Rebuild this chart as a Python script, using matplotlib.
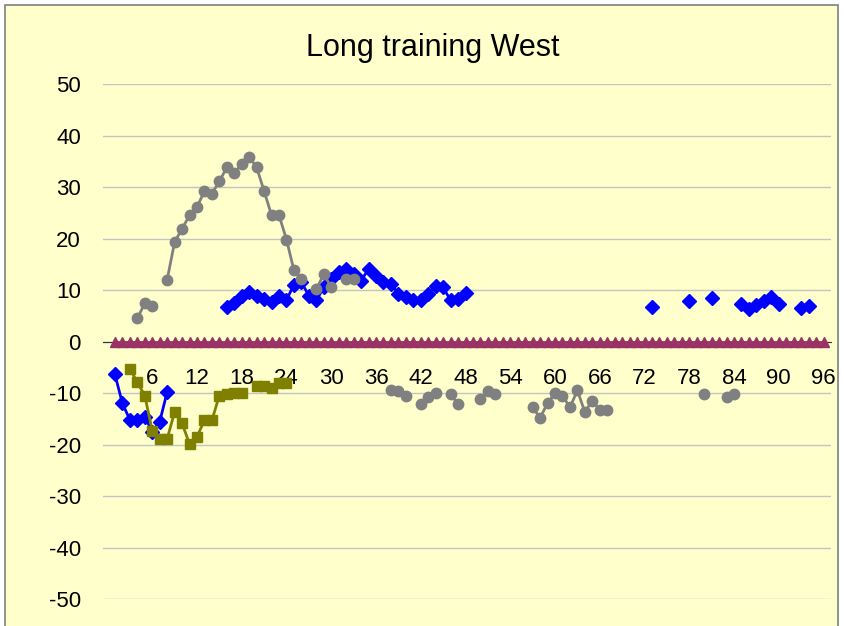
import numpy as np
import matplotlib
matplotlib.use("Agg")
import matplotlib.pyplot as plt
from matplotlib import font_manager
from matplotlib.patches import Rectangle

# categories run 1..96 along the axis
categories = np.arange(1, 97)
xtick_labels = [str(c) if c % 6 == 0 else "" for c in categories]

# blue diamonds
blue_cats = [1, 2, 3, 4, 5, 6, 7, 8,
             16, 17, 18, 19, 20, 21, 22, 23, 24, 25, 26, 27, 28, 29, 30, 31, 32,
             33, 34, 35, 36, 37, 38, 39, 40, 41, 42, 43, 44, 45, 46, 47, 48,
             73, 78, 81, 85, 86, 87, 88, 89, 90, 93, 94]
blue_vals = [-6.4, -12.0, -15.2, -15.2, -14.6, -17.5, -15.6, -9.8,
             6.7, 7.4, 8.8, 9.6, 8.9, 8.3, 7.6, 8.9, 8.1, 11.0, 11.5, 8.9, 8.0, 10.5, 12.2, 13.5, 14.1,
             13.1, 11.8, 14.1, 12.8, 11.5, 11.2, 9.3, 8.6, 8.0, 8.1, 9.3, 10.7, 10.5, 8.0, 8.3, 9.4,
             6.7, 7.8, 8.4, 7.3, 6.4, 7.0, 7.8, 8.6, 7.3, 6.5, 6.8]

# olive squares
olive_cats = [3, 4, 5, 6, 7, 8, 9, 10, 11, 12, 13, 14, 15, 16, 17, 18, 20, 21, 22, 23, 24]
olive_vals = [-5.3, -7.9, -10.5, -17.3, -18.9, -18.9, -13.7, -15.9, -19.9, -18.5, -15.3, -15.3,
              -10.5, -10.2, -10.0, -10.0, -8.6, -8.6, -9.0, -8.0, -8.0]

# gray circles
gray_cats = [4, 5, 6, 8, 9, 10, 11, 12, 13, 14, 15, 16, 17, 18, 19, 20, 21, 22, 23, 24, 25, 26,
             28, 29, 30, 32, 33,
             38, 39, 40, 42, 43, 44, 46, 47, 50, 51, 52,
             57, 58, 59, 60, 61, 62, 63, 64, 65, 66, 67,
             80, 83, 84]
gray_vals = [4.5, 7.4, 6.9, 12.0, 19.3, 21.9, 24.5, 26.1, 29.2, 28.7, 31.1, 33.8, 32.8, 34.4, 35.9,
             33.8, 29.2, 24.5, 24.5, 19.8, 13.8, 12.2,
             10.1, 13.1, 10.5, 12.2, 12.2,
             -9.5, -9.6, -10.6, -12.2, -10.8, -10.0, -10.2, -12.2, -11.1, -9.6, -10.2,
             -12.8, -14.8, -12.0, -10.0, -10.5, -12.8, -9.5, -13.7, -11.5, -13.3, -13.3,
             -10.2, -10.8, -10.2]

# purple triangles, all zero
purple_vals = [0] * 96


def full_series(cats, vals):
    # empty cells become NaN so the line breaks like Excel's gaps
    y = np.full(len(categories), np.nan)
    for c, v in zip(cats, vals):
        y[c - 1] = v
    return y


names = {f.name for f in font_manager.fontManager.ttflist}
title_font = "Liberation Sans Narrow" if "Liberation Sans Narrow" in names else "Liberation Sans"
title_size = 26 if title_font == "Liberation Sans Narrow" else 22
plt.rcParams["font.family"] = ["Liberation Sans", "DejaVu Sans"]
plt.rcParams["axes.unicode_minus"] = False

W, H = 844, 626
fig = plt.figure(figsize=(W / 100, H / 100), dpi=100, facecolor="white")
fig.patches.append(Rectangle((5 / W, -0.1), (838 - 5) / W, 1.1 - 5 / H, transform=fig.transFigure,
                             facecolor="#FFFFCC", edgecolor="#808080", lw=1.2, zorder=-10))

ax = fig.add_axes([103 / W, 1 - 599 / H, 728 / W, 515 / H])
ax.set_facecolor("none")

ax.plot(categories, full_series(blue_cats, blue_vals), color="#0000FF", lw=2,
        marker="D", ms=7.5, mec="#0000FF", mfc="#0000FF", zorder=3)
ax.plot(categories, full_series(olive_cats, olive_vals), color="#808000", lw=2,
        marker="s", ms=7.5, mec="#808000", mfc="#808000", zorder=4)
ax.plot(categories, full_series(gray_cats, gray_vals), color="#808080", lw=2,
        marker="o", ms=7.5, mec="#808080", mfc="#808080", zorder=5)
ax.plot(categories, purple_vals, color="#993366", lw=2,
        marker="^", ms=7, mec="#993366", mfc="#993366", zorder=6)

ax.set_xlim(-0.6, 97.0)
ax.set_ylim(-50, 50)
ax.set_yticks(range(-50, 51, 10))
ax.set_xticks(categories)
ax.set_xticklabels(xtick_labels)

for s in ["top", "right", "left"]:
    ax.spines[s].set_visible(False)
ax.spines["bottom"].set_position(("data", 0))
ax.spines["bottom"].set_color("#333333")
ax.spines["bottom"].set_zorder(2)

ax.grid(axis="y", color="#c4c4c4", lw=1)
ax.set_axisbelow(True)
ax.tick_params(axis="y", length=0, pad=16, labelsize=16)
ax.tick_params(axis="x", length=3, width=0.8, color="#333333", pad=16, labelsize=16)

fig.text(433 / W, 1 - 48 / H, "Long training West", family=title_font,
         fontsize=title_size, ha="center", va="center")

fig.savefig("out.png", dpi=100, facecolor="white")
